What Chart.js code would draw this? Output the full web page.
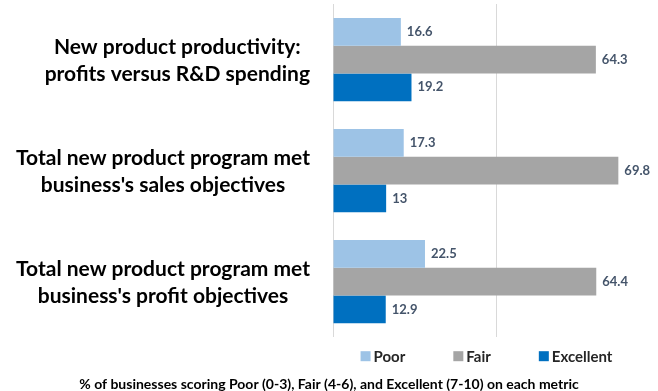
<!DOCTYPE html>
<html>
<head>
<meta charset="utf-8">
<script src="https://cdn.jsdelivr.net/npm/chart.js@4.4.1/dist/chart.umd.min.js"></script>
<style>
  html, body { margin: 0; padding: 0; background: #fff; }
  #wrap { width: 658px; height: 391px; }
</style>
</head>
<body>
<div id="wrap"><canvas id="mycanvas"></canvas></div>
<script>
var metrics = [
	["New product productivity:", "profits versus R&D spending"],
	["Total new product program met", "business's sales objectives"],
	["Total new product program met", "business's profit objectives"]
];
var poor = [16.6, 17.3, 22.5];
var fair = [64.3, 69.8, 64.4];
var excellent = [19.2, 13, 12.9];
var gridTicks = [0, 40];
var footnote = "% of businesses scoring Poor (0-3), Fair (4-6), and Excellent (7-10) on each metric";

var FONT = "Lato, 'Open Sans', sans-serif";

// two-line category names, each block centred on itself and right-aligned to the axis
var metricLabels = {
	id: 'metricLabels',
	afterDraw: function(chart) {
		var ctx = chart.ctx;
		var yScale = chart.scales.y;
		var right = chart.chartArea.left - 23;
		ctx.save();
		ctx.font = "bold 21px " + FONT;
		ctx.fillStyle = "#000";
		ctx.textAlign = "center";
		ctx.textBaseline = "middle";
		for (var i = 0; i < metrics.length; i++) {
			var lines = metrics[i];
			var w = 0;
			for (var j = 0; j < lines.length; j++) {
				w = Math.max(w, ctx.measureText(lines[j]).width);
			}
			var cx = right - w / 2;
			var cy = yScale.getPixelForValue(i) + 1;
			var lh = 27;
			for (var k = 0; k < lines.length; k++) {
				ctx.fillText(lines[k], cx, cy + (k - (lines.length - 1) / 2) * lh);
			}
		}
		ctx.restore();
	}
};

// numbers at the end of every bar
var barValues = {
	id: 'barValues',
	afterDatasetsDraw: function(chart) {
		var ctx = chart.ctx;
		ctx.save();
		ctx.font = "bold 13px " + FONT;
		ctx.fillStyle = "#44546a";
		ctx.textAlign = "left";
		ctx.textBaseline = "middle";
		chart.data.datasets.forEach(function(ds, di) {
			var meta = chart.getDatasetMeta(di);
			meta.data.forEach(function(bar, i) {
				ctx.fillText(String(ds.data[i]), bar.x + 6, bar.y);
			});
		});
		ctx.restore();
	}
};

// legend row under the plot: small square, tight gap, wide spacing between items
var legendRow = {
	id: 'legendRow',
	afterDraw: function(chart) {
		var ctx = chart.ctx;
		var area = chart.chartArea;
		var box = 10, gap = 3, spacing = 48;
		var y = area.bottom + 19;
		ctx.save();
		ctx.font = "bold 15px " + FONT;
		ctx.textBaseline = "middle";
		ctx.textAlign = "left";
		var items = chart.data.datasets.map(function(ds) {
			return { text: ds.label, color: ds.backgroundColor, w: ctx.measureText(ds.label).width };
		});
		var total = 0;
		items.forEach(function(it, i) {
			total += box + gap + it.w + (i > 0 ? spacing : 0);
		});
		var x = (area.left + area.right) / 2 - 9 - total / 2;
		items.forEach(function(it) {
			ctx.fillStyle = it.color;
			ctx.fillRect(x, y - box / 2, box, box);
			ctx.fillStyle = "#262626";
			ctx.fillText(it.text, x + box + gap, y + 1);
			x += box + gap + it.w + spacing;
		});
		ctx.restore();
	}
};

var chartdata = {
	labels: metrics,
	datasets: [
		{ label: "Poor", backgroundColor: "#9dc3e6", data: poor },
		{ label: "Fair", backgroundColor: "#a5a5a5", data: fair },
		{ label: "Excellent", backgroundColor: "#0070c0", data: excellent }
	]
};

var ctx = document.getElementById("mycanvas");

var BarGraph = new Chart(ctx, {
	type: 'bar',
	data: chartdata,
	plugins: [metricLabels, barValues, legendRow],
	options: {
		indexAxis: 'y',
		responsive: true,
		maintainAspectRatio: false,
		animation: false,
		layout: { padding: { top: 4, right: 0, left: 0, bottom: 0 } },
		datasets: {
			bar: { categoryPercentage: 0.75, barPercentage: 1.0 }
		},
		scales: {
			x: {
				min: 0,
				max: 79.5,
				afterBuildTicks: function(scale) {
					scale.ticks = gridTicks.map(function(v) { return { value: v }; });
				},
				ticks: { display: false },
				grid: { color: "#d9d9d9", drawTicks: false },
				border: { display: false }
			},
			y: {
				afterFit: function(scale) { scale.width = 333; },
				ticks: { display: false },
				grid: { display: false },
				border: { display: false }
			}
		},
		plugins: {
			tooltip: { enabled: false },
			legend: { display: false },
			title: {
				display: true,
				position: 'bottom',
				text: footnote,
				color: "#000",
				// top padding leaves room for the legend row
				padding: { top: 39, bottom: -2 },
				font: { family: FONT, size: 14, weight: 'bold' }
			}
		}
	}
});
</script>
</body>
</html>
